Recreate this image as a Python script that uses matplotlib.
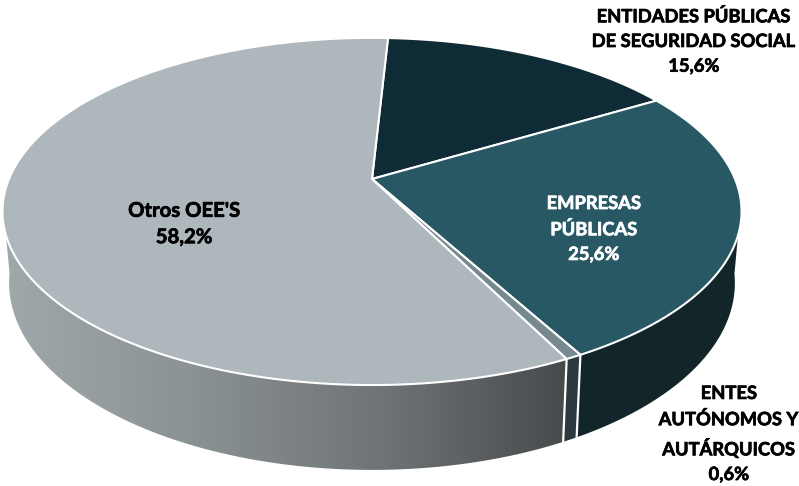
import numpy as np
import matplotlib
matplotlib.use("Agg")
import matplotlib.pyplot as plt
import matplotlib.patheffects as pe
from matplotlib.colors import LinearSegmentedColormap
from matplotlib.patches import Polygon

# clockwise from the top of the pie
categories = ["ENTIDADES PÚBLICAS\nDE SEGURIDAD SOCIAL", "EMPRESAS\nPÚBLICAS",
              "ENTES\nAUTÓNOMOS Y\nAUTÁRQUICOS", "Otros OEE'S"]
shares = [15.6, 25.6, 0.6, 58.2]
share_labels = ["15,6%", "25,6%", "0,6%", "58,2%"]
top_colors = ["#0f2b35", "#275864", "#76898e", "#adb7bc"]

plt.rcParams['font.family'] = ['Lato', 'DejaVu Sans']

# pie geometry, in pixels
cx, cy = 372, 179
rx, ry = 363, 167.5
persp = 0.187
depth = 69
start = 87.0


def project(t, h=0.0):
    # t in degrees, h = drop below the top plane
    c = np.cos(np.radians(t))
    s = -np.sin(np.radians(t))
    d = 1 - persp * s
    shrink = 1 - 0.018 * h / depth
    return cx + rx * shrink * c / d, cy + (ry * s + h) / d


def rim(t0, t1, h=0.0):
    ts = np.linspace(t0, t1, max(int(abs(t1 - t0) * 2), 2))
    x, y = project(ts, h)
    return np.column_stack([x, y])


def side_poly(t0, t1):
    return np.vstack([rim(t0, t1), rim(t1, t0, depth)])


fig = plt.figure(figsize=(7.99, 4.86), dpi=100)
ax = fig.add_axes([0, 0, 1, 1])
ax.set_xlim(0, 799)
ax.set_ylim(486, 0)
ax.axis('off')

# wedge limits from the shares
edges = start - np.cumsum([0] + shares) * 3.6
ess_end, emp_end, entes_end = edges[1], edges[2], edges[3]

# sides
grey = LinearSegmentedColormap.from_list("g", ["#9fa8aa", "#8b9294", "#6f7476", "#474a4b"])

otros_side = Polygon(side_poly(entes_end, -172), closed=True, fc='none', ec='none')
ax.add_patch(otros_side)
im = ax.imshow(np.linspace(0, 1, 256)[None, :], extent=[4, 570, 486, 0], cmap=grey,
               aspect='auto', zorder=1)
im.set_clip_path(otros_side)

entes_side = Polygon(side_poly(emp_end, entes_end), closed=True, fc='#2b3a3f', ec='none', zorder=1)
ax.add_patch(entes_side)
emp_side = Polygon(side_poly(-8, emp_end), closed=True, fc='#12262a', ec='none', zorder=1)
ax.add_patch(emp_side)
for t in (emp_end, entes_end):
    x, y = project(np.array([t, t]), np.array([0, depth]))
    ax.plot(x, y, color='white', lw=1.6, zorder=2)

# top face
for i in range(len(shares)):
    pts = np.vstack([[cx, cy], rim(edges[i], edges[i + 1])])
    ax.add_patch(Polygon(pts, closed=True, fc=top_colors[i], ec='white', lw=1.5,
                         joinstyle='round', zorder=3))

ax.set_xlim(0, 799)
ax.set_ylim(486, 0)


def label(x, y, text, color='black', fs=13.2, spacing=1.55):
    t = ax.text(x, y, text, ha='center', va='center', fontsize=fs, fontweight='bold',
                color=color, linespacing=spacing, zorder=5)
    # Calibri bold in the original is a bit heavier than Lato bold
    t.set_path_effects([pe.withStroke(linewidth=0.5, foreground=color)])


label(694, 41, categories[0] + "\n" + share_labels[0])
label(594, 229, categories[1] + "\n" + share_labels[1], color='white')
label(729, 434, categories[2] + "\n" + share_labels[2])
label(184, 224, categories[3] + "\n" + share_labels[3], fs=14.6, spacing=1.4)

plt.savefig("out.png", dpi=100)
